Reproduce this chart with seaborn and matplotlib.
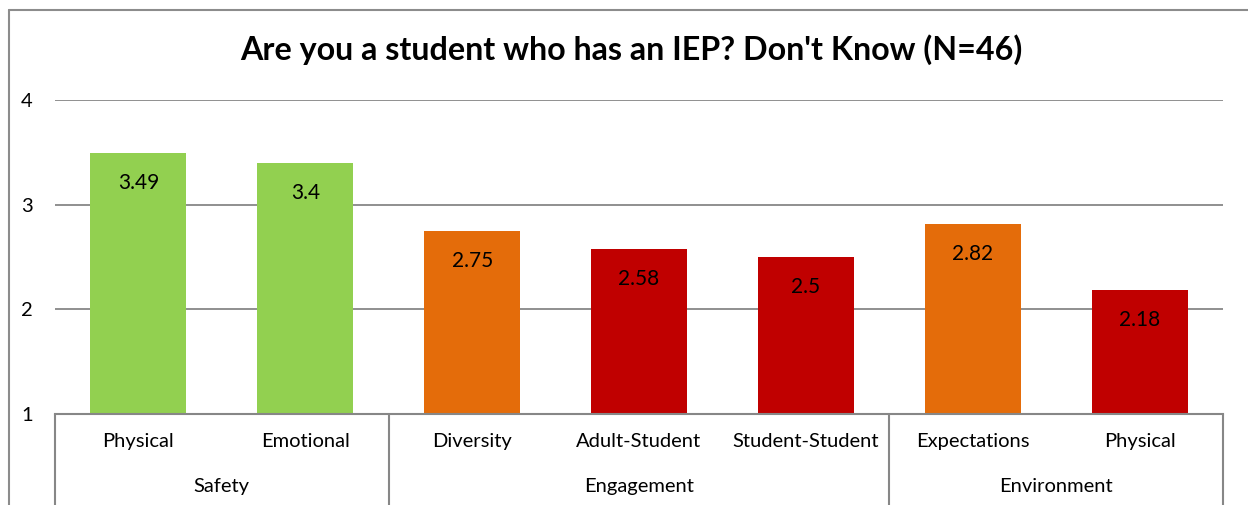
import numpy as np
import pandas as pd
import matplotlib
matplotlib.use("Agg")
import matplotlib.pyplot as plt
import seaborn as sns
from matplotlib.lines import Line2D

title = "Are you a student who has an IEP? Don't Know (N=46)"
items = ["Physical", "Emotional", "Diversity", "Adult-Student", "Student-Student", "Expectations", "Physical"]
groups = ["Safety", "Safety", "Engagement", "Engagement", "Engagement", "Environment", "Environment"]
values = [3.49, 3.4, 2.75, 2.58, 2.5, 2.82, 2.18]
bar_colors = ["#92D050", "#92D050", "#E46C0A", "#C00000", "#C00000", "#E46C0A", "#C00000"]
yticks = [1, 2, 3, 4]

sns.set_theme(style="white")
plt.rcParams['font.family'] = ['Lato', 'DejaVu Sans']
plt.rcParams['text.color'] = 'black'
plt.rcParams['ytick.color'] = 'black'

keys = [f"{g}|{i}" for g, i in zip(groups, items)]
df = pd.DataFrame({"key": keys, "value": values})

W, H = 1248, 505
fig = plt.figure(figsize=(W / 100, H / 100), dpi=100)
x0, x1, ytop, ybot = 55, 1223, 100, 414
ax = fig.add_axes([x0 / W, 1 - ybot / H, (x1 - x0) / W, (ybot - ytop) / H])

sns.barplot(data=df, x="key", y="value", hue="key", palette=dict(zip(keys, bar_colors)),
            order=keys, legend=False, width=0.575, ax=ax, saturation=1, linewidth=0)

ax.set_ylim(1, 4)
ax.set_xlim(-0.5, len(keys) - 0.5)
ax.set_yticks(yticks)
ax.set_yticklabels([str(t) for t in yticks], fontsize=14.5, color="black")
ax.tick_params(axis='y', length=0, pad=16)
ax.tick_params(axis='x', length=0)
ax.set_xticks([])
ax.set_xlabel("")
ax.set_ylabel("")
grid_c = "#878787"
for t in yticks[1:]:
    ax.axhline(t, color=grid_c, lw=1.3, zorder=0)
for s in ["top", "right", "left"]:
    ax.spines[s].set_visible(False)
ax.spines["bottom"].set_color(grid_c)
ax.spines["bottom"].set_linewidth(1.5)

# value labels inside bar tops
for p, v in zip(ax.patches, values):
    ax.annotate(f"{v:g}", (p.get_x() + p.get_width() / 2, p.get_height()),
                xytext=(0, -30), textcoords="offset pixels", ha="center", va="center",
                fontsize=15, color="black")

# category axis text
unit = (ybot - ytop) / 3.0
row1 = -(442 - ybot) / unit + 1
row2 = -(487 - ybot) / unit + 1
for i, it in enumerate(items):
    ax.text(i, row1, it, ha="center", va="center", fontsize=14.5, clip_on=False, color="black")
bounds = [0]
for i in range(1, len(groups)):
    if groups[i] != groups[i - 1]:
        bounds.append(i)
bounds.append(len(groups))
for a, b in zip(bounds[:-1], bounds[1:]):
    ax.text((a + b - 1) / 2, row2, groups[a], ha="center", va="center", fontsize=14.5,
            clip_on=False, color="black")
low = 1 - (H + 5 - ybot) / unit
for b in bounds:
    ax.plot([b - 0.5, b - 0.5], [1, low], color=grid_c, lw=1.5, clip_on=False)

# title
fig.text(631 / W, 1 - 50 / H, title, ha="center", va="center", fontsize=23.2,
         fontweight="bold", color="black")

# chart frame
fig.add_artist(Line2D([8.5 / W, 8.5 / W], [1 - 9.5 / H, 0], color="#8c8c8c", lw=1.5, transform=fig.transFigure))
fig.add_artist(Line2D([8.5 / W, 1], [1 - 9.5 / H, 1 - 9.5 / H], color="#8c8c8c", lw=1.5, transform=fig.transFigure))

fig.savefig("out.png", dpi=100)
